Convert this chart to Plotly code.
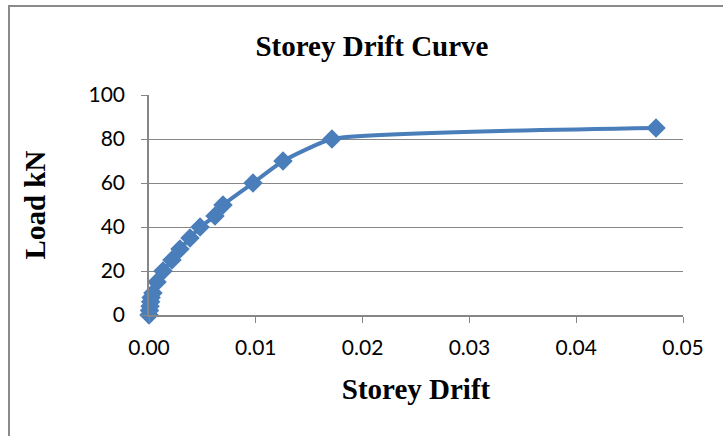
import plotly.graph_objects as go

# Storey drift vs. applied load
drift = [0.0, 0.00005, 0.0001, 0.00015, 0.0002, 0.00037, 0.00075, 0.00131,
         0.00215, 0.0029, 0.00384, 0.00478, 0.00618, 0.00693, 0.00974,
         0.01255, 0.01713, 0.04747]
load_kn = [0, 2, 4, 6, 8, 10, 15, 20, 25, 30, 35, 40, 45, 50, 60, 70, 80, 85]

x_ticks = [0.0, 0.01, 0.02, 0.03, 0.04, 0.05]
x_tick_text = ["0.00", "0.01", "0.02", "0.03", "0.04", "0.05"]
y_ticks = [0, 20, 40, 60, 80, 100]

blue = "#4a7ebb"
grey = "#868686"
serif = "Liberation Serif"
sans = "Lato"

fig = go.Figure(
    go.Scatter(
        x=drift,
        y=load_kn,
        mode="lines+markers",
        line=dict(color=blue, width=4, shape="spline", smoothing=0.45),
        marker=dict(symbol="diamond", size=15, color=blue),
        showlegend=False,
        cliponaxis=False,
    )
)

fig.update_layout(
    width=723,
    height=436,
    margin=dict(l=149, r=40, t=95, b=121),
    paper_bgcolor="white",
    plot_bgcolor="white",
    title=dict(
        text="<b>Storey Drift Curve</b>",
        font=dict(family=serif, size=29, color="black"),
        x=372 / 723,
        xanchor="center",
        y=1 - 46 / 436,
        yanchor="middle",
    ),
    xaxis=dict(
        range=[0, 0.05],
        tickvals=x_ticks,
        ticktext=x_tick_text,
        showgrid=False,
        zeroline=False,
        showline=True,
        linecolor=grey,
        linewidth=1.5,
        ticks="outside",
        ticklen=6,
        tickcolor=grey,
        tickfont=dict(family=sans, size=21, color="black"),
        ticklabelstandoff=7,
        title=dict(
            text="<b>Storey Drift</b>",
            font=dict(family=serif, size=29, color="black"),
            standoff=21,
        ),
    ),
    yaxis=dict(
        range=[0, 100],
        tickvals=y_ticks,
        showgrid=True,
        gridcolor=grey,
        gridwidth=1.3,
        zeroline=False,
        showline=True,
        linecolor=grey,
        linewidth=1.5,
        ticks="outside",
        ticklen=6,
        tickcolor=grey,
        tickfont=dict(family=sans, size=21, color="black"),
        ticklabelstandoff=12,
        title=dict(
            text="<b>Load kN</b>",
            font=dict(family=serif, size=29, color="black"),
            standoff=34,
        ),
    ),
    shapes=[
        dict(
            type="rect",
            xref="paper",
            yref="paper",
            x0=(9 - 149) / 534,
            x1=(740 - 149) / 534,
            y0=(315 - 450) / 220,
            y1=(315 - 6) / 220,
            line=dict(color="#8a8a8a", width=2),
            fillcolor="rgba(0,0,0,0)",
            layer="below",
        )
    ],
)

fig.write_html("out.html")
